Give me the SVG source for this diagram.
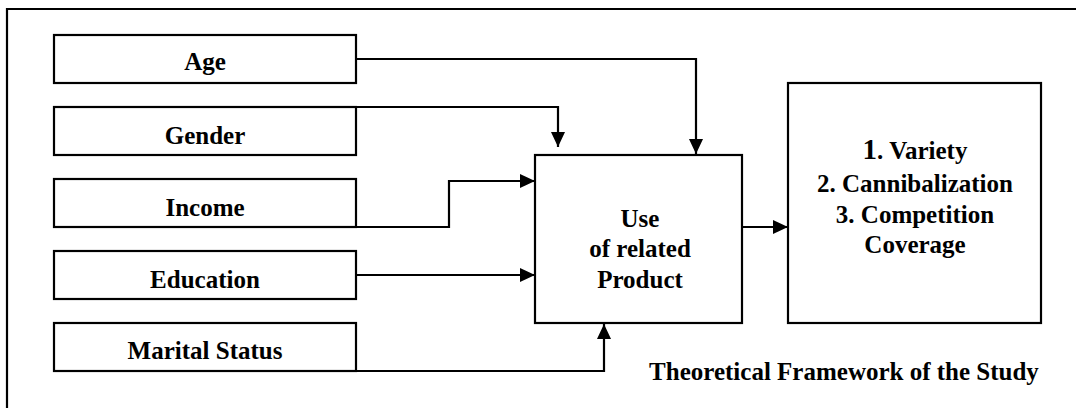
<svg xmlns="http://www.w3.org/2000/svg" width="1076" height="408" viewBox="0 0 1076 408">
<defs>
<style>
.box{fill:#fff;stroke:#000;stroke-width:2.2}
.ln{fill:none;stroke:#000;stroke-width:2.2}
text{font-family:'Liberation Serif','Times New Roman',Tinos,'DejaVu Serif',serif;font-weight:bold;font-size:25px;fill:#000;text-anchor:middle}
</style>
<marker id="arr" markerUnits="userSpaceOnUse" markerWidth="16" markerHeight="14" refX="15" refY="7" orient="auto">
<path d="M0,0 L15,7 L0,14 Z" fill="#000"/>
</marker>
</defs>
<rect width="1076" height="408" fill="#fff"/>
<g id="frame">
<path class="ln" d="M7,408 V9 H1076"/>
</g>
<g id="connectors">
<path class="ln" d="M356,59 H696 V154" marker-end="url(#arr)"/>
<path class="ln" d="M356,107 H558 V147" marker-end="url(#arr)"/>
<path class="ln" d="M356,227 H449 V181 H535" marker-end="url(#arr)"/>
<path class="ln" d="M356,275 H535" marker-end="url(#arr)"/>
<path class="ln" d="M356,371 H604 V324" marker-end="url(#arr)"/>
<path class="ln" d="M742,227 H788" marker-end="url(#arr)"/>
</g>
<g font-family="Liberation Serif, Times New Roman, serif">
<g id="age">
<rect class="box" x="54" y="35" width="302" height="48"/>
<text x="205" y="70">Age</text>
</g>
<g id="gender">
<rect class="box" x="54" y="107" width="302" height="48"/>
<text x="205" y="144">Gender</text>
</g>
<g id="income">
<rect class="box" x="54" y="179" width="302" height="48"/>
<text x="205" y="216">Income</text>
</g>
<g id="education">
<rect class="box" x="54" y="251" width="302" height="48"/>
<text x="205" y="288">Education</text>
</g>
<g id="marital">
<rect class="box" x="54" y="323" width="302" height="48"/>
<text x="205" y="359">Marital Status</text>
</g>
<g id="use">
<rect class="box" x="535" y="155" width="207" height="168"/>
<text x="640" y="227">Use</text>
<text x="640" y="257">of related</text>
<text x="640" y="288">Product</text>
</g>
<g id="outcomes">
<rect class="box" x="788" y="83" width="253" height="240"/>
<text x="915" y="159"><tspan font-size="29">1</tspan>. Variety</text>
<text x="915" y="192">2. Cannibalization</text>
<text x="915" y="223">3. Competition</text>
<text x="915" y="253">Coverage</text>
</g>
<g id="caption">
<text x="844" y="380">Theoretical Framework of the Study</text>
</g>
</g>
</svg>
